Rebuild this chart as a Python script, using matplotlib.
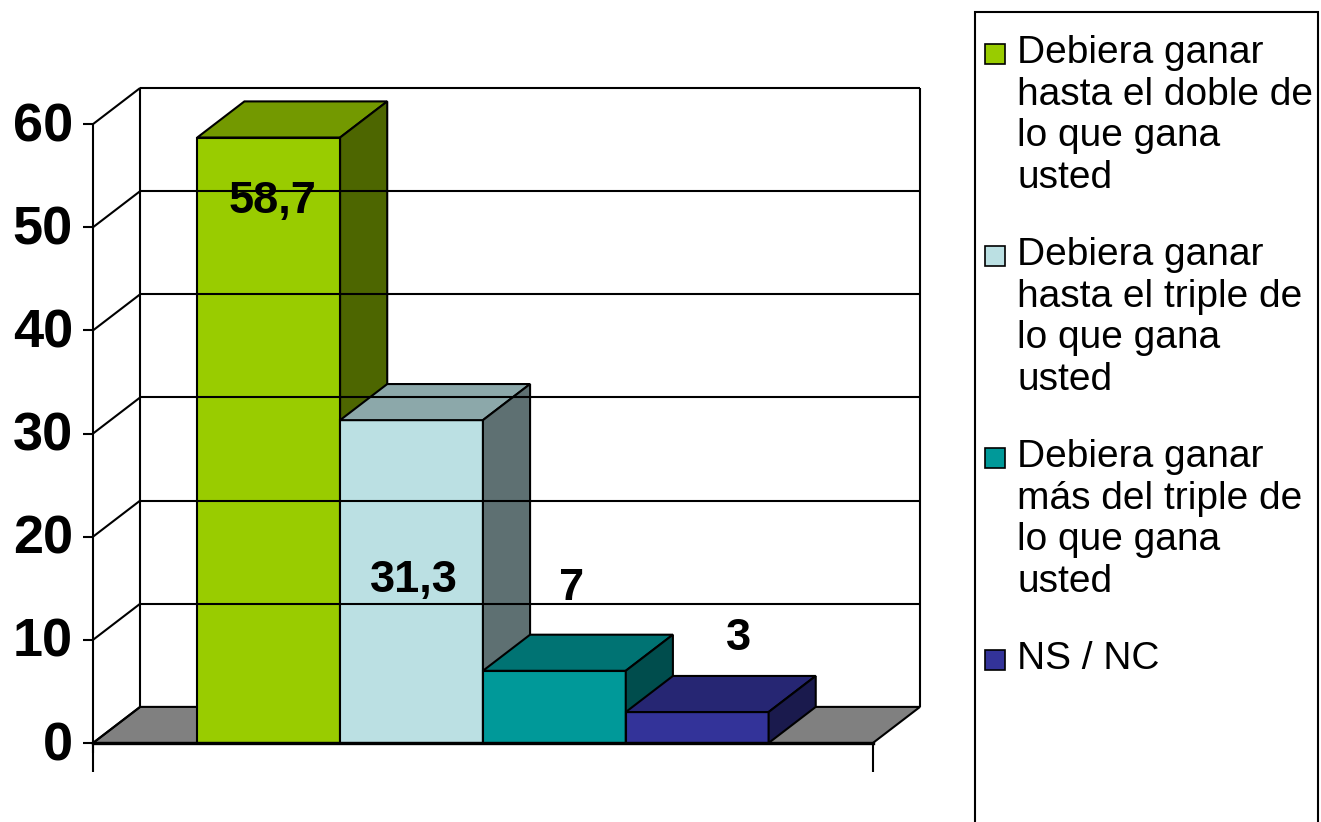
import numpy as np
import matplotlib.pyplot as plt
from matplotlib.patches import Polygon, Rectangle

plt.rc('font', family=['Liberation Sans', 'DejaVu Sans'])

# data
categories = ['Debiera ganar\nhasta el doble de\nlo que gana\nusted',
              'Debiera ganar\nhasta el triple de\nlo que gana\nusted',
              'Debiera ganar\nmás del triple de\nlo que gana\nusted',
              'NS / NC']
values = [58.7, 31.3, 7, 3]
value_labels = ['58,7', '31,3', '7', '3']
front_colors = ['#99CC00', '#BBE0E3', '#009999', '#333399']
top_colors = ['#739900', '#8CA8AA', '#007373', '#262673']
side_colors = ['#4D6600', '#5E7072', '#004D4D', '#1A1A4D']
yticks = [0, 10, 20, 30, 40, 50, 60]

# where Excel put the value labels (x offset from bar left, y in data units)
label_x = [0.53, 1.52, 2.62, 3.79]
label_y = [52.5, 15.8, 15.0, 10.1]

gap = 0.73          # empty floor either side of the bars
dx, dy = 0.33, 3.5  # depth offset of the 3d box
ymax = 60
n = len(values)
x0, x1 = -gap, n + gap

fig = plt.figure(figsize=(13.21, 8.22), dpi=100)
ax = fig.add_axes([93 / 1321, 79 / 822, 827 / 1321, 655 / 822])
ax.set_xlim(x0, x1 + dx)
ax.set_ylim(0, ymax + dy)
ax.axis('off')

lw = 1.5
kw = dict(color='black', lw=lw, clip_on=False, solid_capstyle='butt')

# floor
ax.add_patch(Polygon([(x0, 0), (x1, 0), (x1 + dx, dy), (x0 + dx, dy)],
                     closed=True, facecolor='#808080', edgecolor='black', lw=lw, clip_on=False))

# back wall + side wall grid
for t in yticks:
    if t > 0:
        ax.plot([x0 + dx, x1 + dx], [t + dy, t + dy], **kw)
    ax.plot([x0, x0 + dx], [t, t + dy], **kw)
    ax.plot([x0 - 0.07, x0], [t, t], **kw)
    ax.text(x0 - 0.14, t - 0.3, str(t), ha='right', va='center', fontsize=39, fontweight='bold')
ax.plot([x0 + dx, x0 + dx], [dy, ymax + dy], **kw)
ax.plot([x1 + dx, x1 + dx], [dy, ymax + dy], **kw)
ax.plot([x0, x0], [-1, ymax], **kw)
ax.plot([x0, x1], [0, 0], color='black', lw=2.4, clip_on=False)
ax.plot([x1, x1], [0, -2.8], **kw)
ax.plot([x0, x0], [0, -2.8], **kw)

# bars
for i, v in enumerate(values):
    l, r = i, i + 1
    ax.add_patch(Polygon([(l, 0), (r, 0), (r, v), (l, v)], closed=True,
                         facecolor=front_colors[i], edgecolor='black', lw=lw, clip_on=False))
    ax.add_patch(Polygon([(l, v), (r, v), (r + dx, v + dy), (l + dx, v + dy)], closed=True,
                         facecolor=top_colors[i], edgecolor='black', lw=lw, clip_on=False))
    ax.add_patch(Polygon([(r, 0), (r + dx, dy), (r + dx, v + dy), (r, v)], closed=True,
                         facecolor=side_colors[i], edgecolor='black', lw=lw, clip_on=False))
    ax.text(label_x[i], label_y[i], value_labels[i], ha='center', va='center',
            fontsize=32.5, fontweight='bold')

# legend box
W, H = 1321, 822
fig.patches.append(Rectangle((975 / W, -0.05), (1318 - 975) / W, (822 - 12) / H + 0.05,
                             transform=fig.transFigure, facecolor='white',
                             edgecolor='black', lw=1.5))
for i, lab in enumerate(categories):
    yc = 54 + i * 202
    fig.patches.append(Rectangle((985 / W, 1 - (yc + 10) / H), 20 / W, 20 / H,
                                 transform=fig.transFigure, facecolor=front_colors[i],
                                 edgecolor='black', lw=1.2))
    fig.text(1017 / W, 1 - (yc - 19) / H, lab, ha='left', va='top',
             fontsize=28, linespacing=1.2)

plt.savefig('out.png', dpi=100)
